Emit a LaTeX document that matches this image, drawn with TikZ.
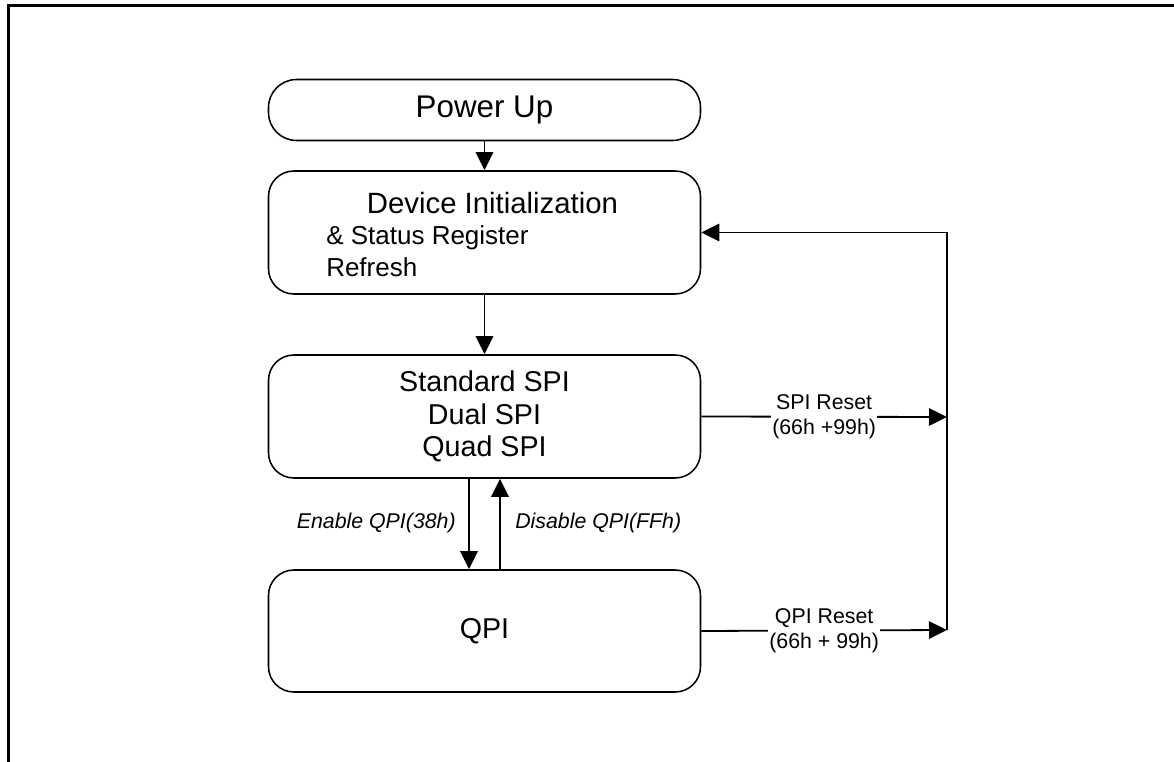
\documentclass[tikz,border=0pt]{standalone}
\usepackage{fontspec}
\setmainfont{Liberation Sans}
\usetikzlibrary{arrows.meta,calc}
\begin{document}
\begin{tikzpicture}[x=0.75pt,y=-0.75pt,
  box/.style={draw, line width=1.15pt, rounded corners=19pt, minimum width=324pt, inner sep=0pt},
  arr/.style={line width=1.35pt, -{Triangle[length=13.5pt,width=13pt]}},
  plain/.style={line width=1.35pt},
  lbl/.style={font=\fontsize{16}{19}\selectfont, align=center, fill=white, inner sep=1pt},
  itl/.style={font=\itshape\fontsize{16}{19}\selectfont, inner sep=0pt},
]
\useasboundingbox (0,0) rectangle (1174,762);
% frame
\draw[line width=2.1pt] (8.7,762) -- (8.7,5.5) -- (1174,5.5);

% boxes
\node[box, rounded corners=21pt, minimum height=45.75pt, font=\fontsize{23.5}{28}\selectfont] (pu) at (484.5,110) {Power Up};
\node[box, minimum height=92.25pt] (dev) at (484.5,232.5) {};
\node[anchor=base, inner sep=0pt, font=\fontsize{22}{26}\selectfont] (devt1) at (492.5,214) {Device Initialization};
\node[anchor=base west, inner sep=0pt, font=\fontsize{19.5}{23}\selectfont] (devt2) at (326,245) {\& Status Register};
\node[anchor=base west, inner sep=0pt, font=\fontsize{19.5}{23}\selectfont] (devt3) at (326,277) {Refresh};
\node[box, minimum height=92.25pt, align=center, font=\fontsize{21.5}{24.4}\selectfont] (spi) at (484.5,416.5) {Standard SPI\\Dual SPI\\Quad SPI};
\node[box, minimum height=91.5pt, font=\fontsize{21.5}{25}\selectfont] (qpi) at (484.5,631) {QPI};

% coordinates of the loop
\coordinate (r1) at (947,417);
\coordinate (r2) at (947,630);
\coordinate (rt) at (947,232.5);

% connectors
\draw[arr] (pu) -- (dev);
\draw[arr] (dev) -- (spi);
\draw[arr] ($(spi.south)+(-15.5,0)$) -- ($(qpi.north)+(-15.5,0)$);
\draw[arr] ($(qpi.north)+(15.5,0)$) -- ($(spi.south)+(15.5,0)$);
\node[itl, anchor=east] (en) at (456,523) {Enable QPI(38h)};
\node[itl, anchor=west] (dis) at (515,523) {Disable QPI(FFh)};

\draw[arr] (spi.east) -- node[lbl] (spil) {SPI Reset\\(66h +99h)} (r1);
\draw[arr] (qpi.east) -- node[lbl] (qpil) {QPI Reset\\(66h + 99h)} (r2);
\draw[plain] (r2) -- (rt);
\draw[arr] (rt) -- (dev.east);
\end{tikzpicture}
\end{document}
